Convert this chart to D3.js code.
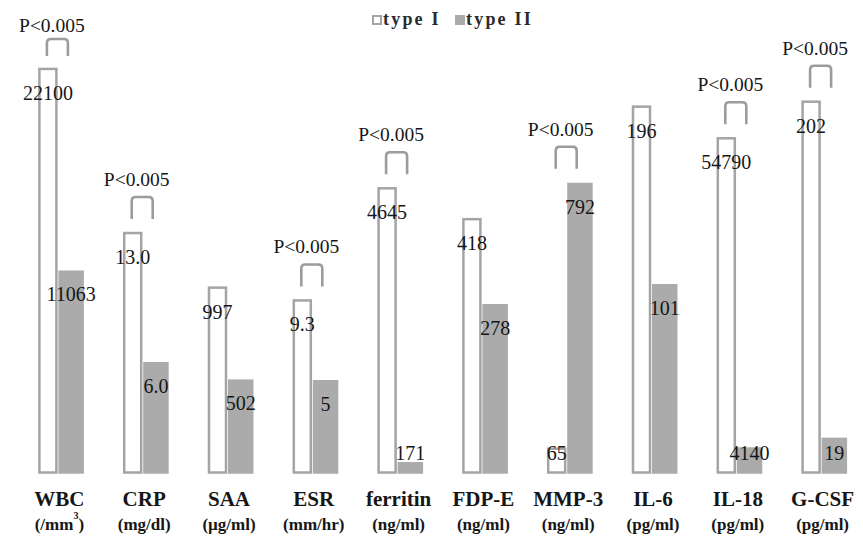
<!DOCTYPE html>
<html>
<head>
<meta charset="utf-8">
<script src="https://cdn.jsdelivr.net/npm/d3@7"></script>
<style>
  html, body { margin: 0; padding: 0; background: #fff; }
  svg { display: block; }
</style>
</head>
<body>
<div id="chart"></div>
<script>
// ---- data ----
const categories = ["WBC", "CRP", "SAA", "ESR", "ferritin", "FDP-E", "MMP-3", "IL-6", "IL-18", "G-CSF"];
const units = ["(/mm3)", "(mg/dl)", "(µg/ml)", "(mm/hr)", "(ng/ml)", "(ng/ml)", "(ng/ml)", "(pg/ml)", "(pg/ml)", "(pg/ml)"];
const typeI  = [22100, 13.0, 997, 9.3, 4645, 418, 65, 196, 54790, 202];
const typeII = [11063, 6.0, 502, 5, 171, 278, 792, 101, 4140, 19];
const typeILabels  = ["22100", "13.0", "997", "9.3", "4645", "418", "65", "196", "54790", "202"];
const typeIILabels = ["11063", "6.0", "502", "5", "171", "278", "792", "101", "4140", "19"];
// each category is drawn on its own value scale (0 .. scaleMax)
const scaleMax = [23000, 22.8, 2265, 22.7, 6865, 693, 1148, 225, 68860, 228.8];
const pValues = ["P<0.005", "P<0.005", null, "P<0.005", "P<0.005", null, "P<0.005", null, "P<0.005", "P<0.005"];
const seriesNames = ["type I", "type II"];

// ---- layout ----
const W = 863, H = 538;
const base = 472.5, plotTop = 52.5;
const grayFill = "#ababab", outline = "#a4a4a4", ink = "#161616";
const FONT = "'Liberation Serif'";

const svg = d3.select("#chart").append("svg").attr("width", W).attr("height", H);
svg.append("rect").attr("width", W).attr("height", H).attr("fill", "#fff");

const x = d3.scaleBand().domain(categories).range([17, 865]).padding(0);
const cx = c => x(c) + x.bandwidth() / 2;
const yScales = categories.map((c, i) => d3.scaleLinear().domain([0, scaleMax[i]]).range([base, plotTop]));

const rows = categories.map((c, i) => ({
  c, i, v1: typeI[i], v2: typeII[i], l1: typeILabels[i], l2: typeIILabels[i], p: pValues[i], unit: units[i]
}));

const g = svg.append("g");

// type I bars (white with gray outline)
g.selectAll("rect.t1").data(rows).join("rect")
  .attr("class", "t1")
  .attr("x", d => cx(d.c) - 20)
  .attr("width", 17)
  .attr("y", d => yScales[d.i](d.v1))
  .attr("height", d => base - yScales[d.i](d.v1))
  .attr("fill", "#fff").attr("stroke", outline).attr("stroke-width", 2.5);

// type II bars (gray)
g.selectAll("rect.t2").data(rows).join("rect")
  .attr("class", "t2")
  .attr("x", d => cx(d.c) - 1)
  .attr("width", 25.5)
  .attr("y", d => yScales[d.i](d.v2))
  .attr("height", d => base - yScales[d.i](d.v2) + 1.25)
  .attr("fill", grayFill);

// value labels
const labelY = top => Math.min(top + 31, base - 13);
g.selectAll("text.v1").data(rows).join("text")
  .attr("font-family", FONT)
  .attr("x", d => cx(d.c) - 11.5)
  .attr("y", d => labelY(yScales[d.i](d.v1)))
  .attr("text-anchor", "middle").attr("font-size", 20).attr("fill", ink)
  .text(d => d.l1);
g.selectAll("text.v2").data(rows).join("text")
  .attr("font-family", FONT)
  .attr("x", d => cx(d.c) + 11.75)
  .attr("y", d => labelY(yScales[d.i](d.v2)))
  .attr("text-anchor", "middle").attr("font-size", 20).attr("fill", ink)
  .text(d => d.l2);

// significance brackets
const sig = rows.filter(d => d.p);
sig.forEach(d => {
  const top = Math.min(yScales[d.i](d.v1), yScales[d.i](d.v2));
  const c = cx(d.c);
  const bTop = Math.max(top - 36, 39);
  const bLeg = Math.max(top - 14, 56);
  const x0 = c - 12.5, x1 = c + 8.5, r = 4;
  g.append("path")
    .attr("d", `M${x0},${bLeg} L${x0},${bTop + r} Q${x0},${bTop} ${x0 + r},${bTop} L${x1 - r},${bTop} Q${x1},${bTop} ${x1},${bTop + r} L${x1},${bLeg}`)
    .attr("fill", "none").attr("stroke", "#9c9c9c").attr("stroke-width", 2.6);
  g.append("text")
    .attr("font-family", FONT)
    .attr("x", c - 7.5)
    .attr("y", Math.max(top - 47, 32))
    .attr("text-anchor", "middle").attr("font-size", 19.5).attr("fill", ink)
    .text(d.p);
});

// category labels
const cat = svg.append("g");
cat.selectAll("text.cat").data(rows).join("text")
  .attr("font-family", FONT)
  .attr("x", d => cx(d.c)).attr("y", 506)
  .attr("text-anchor", "middle").attr("font-size", 21).attr("font-weight", "bold").attr("fill", ink)
  .text(d => d.c);
cat.selectAll("text.unit").data(rows).join("text")
  .attr("font-family", FONT)
  .attr("x", d => cx(d.c)).attr("y", 530)
  .attr("text-anchor", "middle").attr("font-size", 17).attr("font-weight", "bold").attr("fill", ink)
  .each(function(d) {
    const t = d3.select(this);
    const m = d.unit.match(/^\(\/mm(\d)\)$/);
    if (m) {
      t.append("tspan").text("(/mm");
      t.append("tspan").attr("font-size", 10).attr("dy", -11).text(m[1]);
      t.append("tspan").attr("dy", 11).text(")");
    } else {
      t.text(d.unit);
    }
  });

// legend
const legend = svg.append("g");
const legendX = [372, 455];
seriesNames.forEach((s, k) => {
  legend.append("rect")
    .attr("x", legendX[k] + 1).attr("y", 16).attr("width", 8).attr("height", 8)
    .attr("fill", k === 0 ? "#fff" : grayFill)
    .attr("stroke", k === 0 ? outline : grayFill).attr("stroke-width", 2);
  legend.append("text")
    .attr("font-family", FONT)
    .attr("x", legendX[k] + 11).attr("y", 25)
    .attr("font-size", 18).attr("font-weight", "bold").attr("letter-spacing", 2.2).attr("fill", "#2a2a2a")
    .text(s);
});
</script>
</body>
</html>
